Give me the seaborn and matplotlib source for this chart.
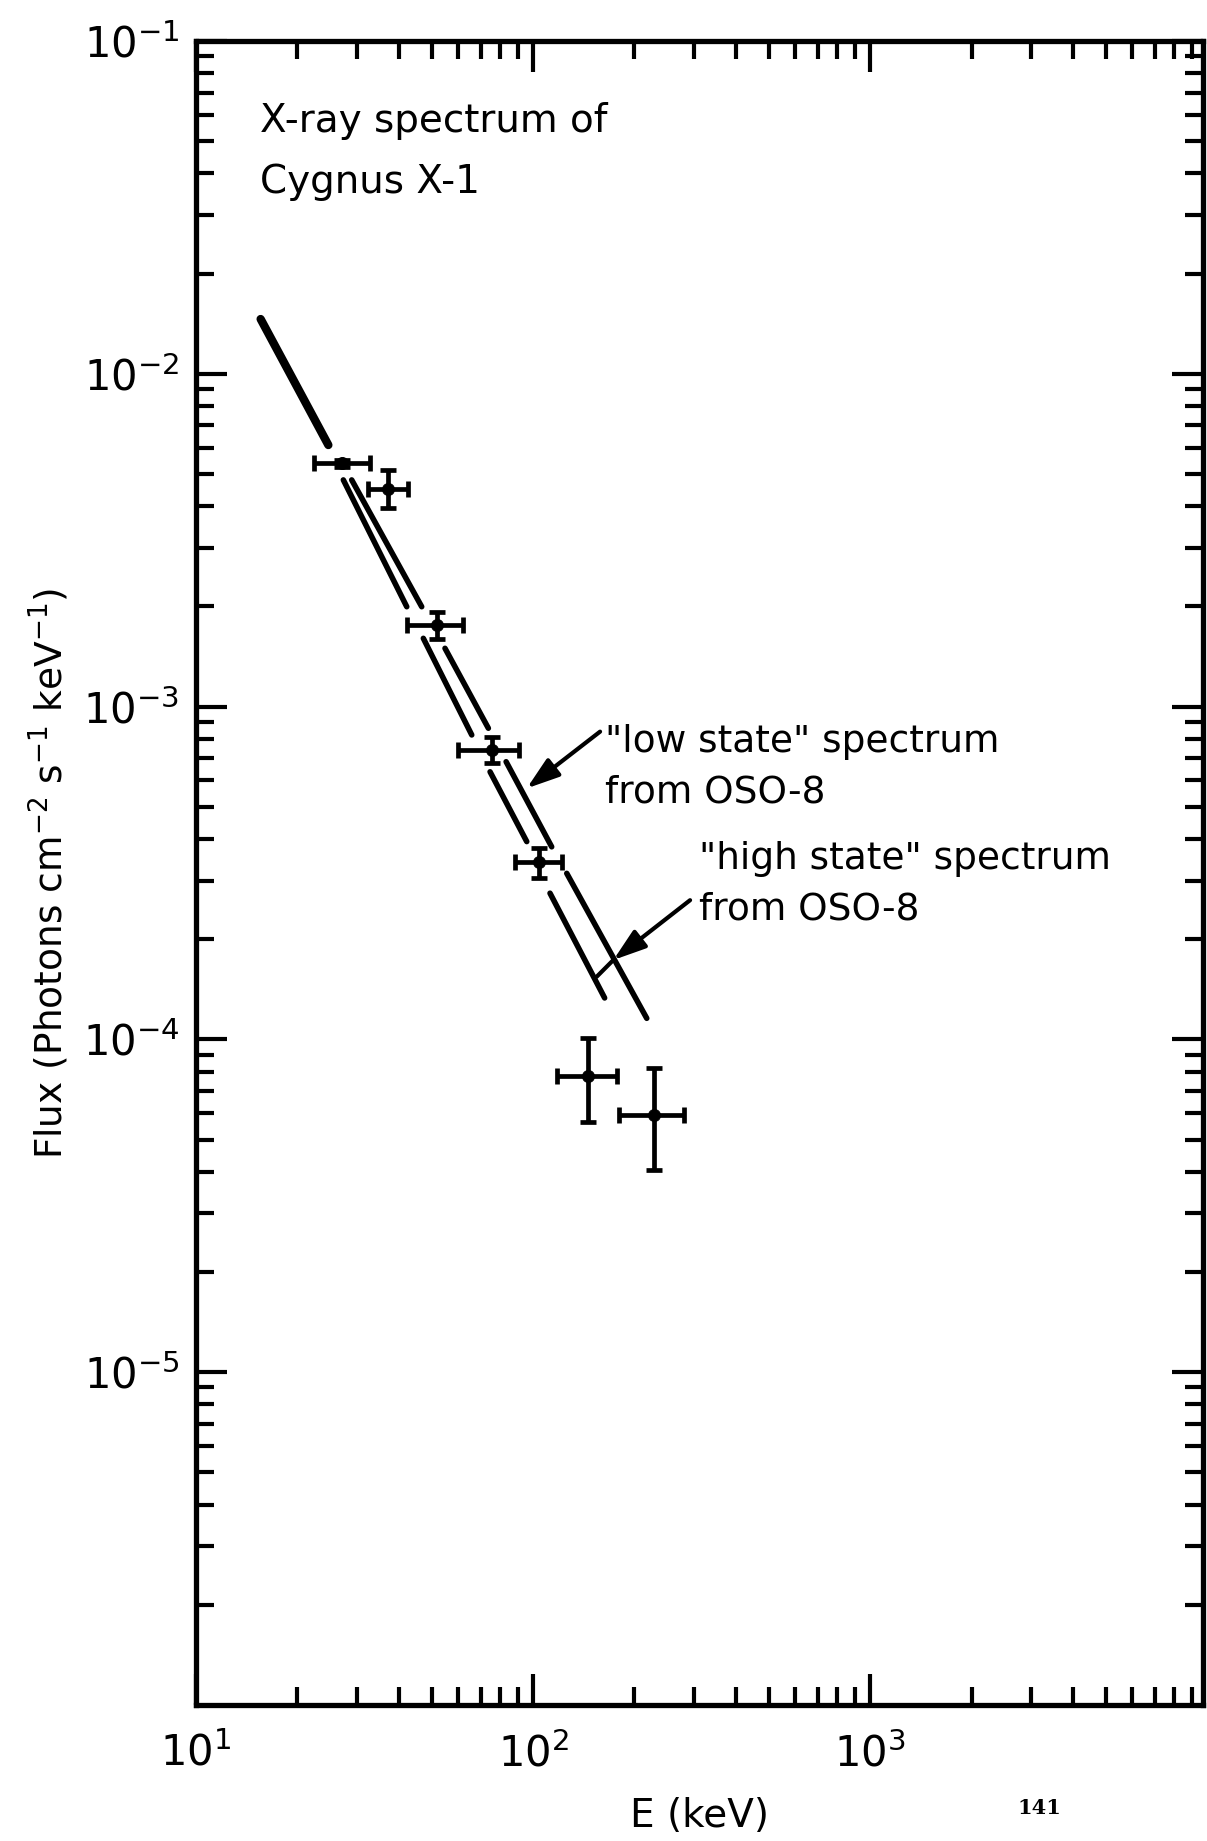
import numpy as np
import pandas as pd
import matplotlib
matplotlib.use("Agg")
import matplotlib.pyplot as plt
import seaborn as sns

# ---------------- data ----------------
# measured points: energy (keV), flux, and error-bar extents
E_pts = [27.1, 37.1, 51.8, 75.3, 104.5, 145.5, 228.0]
F_pts = [5.38e-3, 4.51e-3, 1.758e-3, 7.41e-4, 3.42e-4, 7.78e-5, 5.94e-5]
E_lo = [22.4, 32.3, 42.2, 60.0, 88.4, 118.0, 179.5]
E_hi = [32.8, 42.5, 61.8, 91.0, 121.6, 177.8, 281.0]
F_lo = [5.25e-3, 3.94e-3, 1.60e-3, 6.76e-4, 3.05e-4, 5.64e-5, 4.04e-5]
F_hi = [5.5e-3, 5.14e-3, 1.93e-3, 8.13e-4, 3.75e-4, 1.01e-4, 8.22e-5]

# common solid part of the spectra (low energies)
E_common = [15.55, 24.70]
F_common = [1.461e-2, 6.11e-3]

# "high state" spectrum, drawn broken around the data points (start/end of segments)
E_high_start = [27.36, 47.26, 74.56, 112.3]
E_high_end = [42.20, 65.79, 95.8, 163.1]
F_high_start = [4.80e-3, 1.604e-3, 6.37e-4, 2.75e-4]
F_high_end = [1.996e-3, 8.22e-4, 3.93e-4, 1.332e-4]

# "low state" spectrum
E_low_start = [28.97, 54.8, 83.2, 125.9]
E_low_end = [46.74, 73.7, 113.6, 217.5]
F_low_start = [4.80e-3, 1.497e-3, 6.83e-4, 3.155e-4]
F_low_end = [1.996e-3, 8.61e-4, 3.79e-4, 1.157e-4]

x_ticks = [10, 100, 1000]
x_tick_labels = [r"$10^{1}$", r"$10^{2}$", r"$10^{3}$"]
y_ticks = [1e-5, 1e-4, 1e-3, 1e-2, 1e-1]
y_tick_labels = [r"$10^{-5}$", r"$10^{-4}$", r"$10^{-3}$", r"$10^{-2}$", r"$10^{-1}$"]

# ---------------- build tables ----------------
rows = []
for i, (e0, e1, f0, f1) in enumerate(zip(E_high_start, E_high_end, F_high_start, F_high_end)):
    rows += [("high", f"h{i}", e0, f0), ("high", f"h{i}", e1, f1)]
for i, (e0, e1, f0, f1) in enumerate(zip(E_low_start, E_low_end, F_low_start, F_low_end)):
    rows += [("low", f"l{i}", e0, f0), ("low", f"l{i}", e1, f1)]
seg_df = pd.DataFrame(rows, columns=["state", "seg", "E", "F"])
common_df = pd.DataFrame({"E": E_common, "F": F_common})
pts_df = pd.DataFrame({"E": E_pts, "F": F_pts})

# ---------------- style ----------------
sns.set_theme(style="ticks")
plt.rcParams["font.family"] = ["DejaVu Sans"]
plt.rcParams["mathtext.fontset"] = "dejavusans"
for k in ["text.color", "axes.labelcolor", "xtick.color", "ytick.color", "axes.edgecolor"]:
    plt.rcParams[k] = "black"

fig = plt.figure(figsize=(12.07, 18.41), dpi=100)
ax = fig.add_axes([0.1624, 0.0739, 0.8343, 0.9038])
ax.set_xscale("log")
ax.set_yscale("log")
ax.set_xlim(10, 9727)
ax.set_ylim(1e-6, 1e-1)

# lines
sns.lineplot(data=common_df, x="E", y="F", ax=ax, color="black", lw=6,
             sort=False, estimator=None, legend=False, solid_capstyle="round")
sns.lineplot(data=seg_df, x="E", y="F", units="seg", ax=ax, color="black", lw=4,
             sort=False, estimator=None, legend=False, solid_capstyle="round")

# data points with error bars
xerr = [np.array(E_pts) - np.array(E_lo), np.array(E_hi) - np.array(E_pts)]
yerr = [np.array(F_pts) - np.array(F_lo), np.array(F_hi) - np.array(F_pts)]
ax.errorbar(E_pts, F_pts, xerr=xerr, yerr=yerr, fmt="none", ecolor="black",
            elinewidth=3.4, capsize=6, capthick=3.4)
sns.scatterplot(data=pts_df, x="E", y="F", ax=ax, color="black", s=75,
                edgecolor="black", legend=False, zorder=5)

# spines / ticks
for s in ax.spines.values():
    s.set_linewidth(3.8)
    s.set_color("black")
ax.tick_params(which="both", direction="in", top=True, right=True, color="black")
ax.tick_params(which="major", length=22, width=3.0)
ax.tick_params(which="minor", length=13, width=3.0)
ax.tick_params(axis="x", which="major", pad=20, labelsize=30)
ax.tick_params(axis="y", which="major", pad=12, labelsize=30)
ax.xaxis.set_minor_locator(matplotlib.ticker.LogLocator(base=10, subs=np.arange(2, 10), numticks=20))
ax.yaxis.set_minor_locator(matplotlib.ticker.LogLocator(base=10, subs=np.arange(2, 10), numticks=20))
ax.xaxis.set_minor_formatter(matplotlib.ticker.NullFormatter())
ax.yaxis.set_minor_formatter(matplotlib.ticker.NullFormatter())
ax.set_xticks(x_ticks)
ax.set_xticklabels(x_tick_labels)
ax.set_yticks(y_ticks)
ax.set_yticklabels(y_tick_labels)

ax.set_xlabel("E (keV)", fontsize=28, labelpad=16)
ax.set_ylabel(r"Flux (Photons cm$^{-2}$ s$^{-1}$ keV$^{-1}$)", fontsize=27, labelpad=8)

# annotations
ax.text(0.064, 0.952, "X-ray spectrum of", transform=ax.transAxes, fontsize=28, va="center", ha="left")
ax.text(0.064, 0.915, "Cygnus X-1", transform=ax.transAxes, fontsize=28, va="center", ha="left")
ax.text(0.4057, 0.5787, "\"low state\" spectrum", transform=ax.transAxes, fontsize=27, va="center", ha="left")
ax.text(0.4057, 0.5484, "from OSO-8", transform=ax.transAxes, fontsize=27, va="center", ha="left")
ax.text(0.4991, 0.5082, "\"high state\" spectrum", transform=ax.transAxes, fontsize=27, va="center", ha="left")
ax.text(0.4991, 0.4778, "from OSO-8", transform=ax.transAxes, fontsize=27, va="center", ha="left")

arrow_kw = dict(arrowstyle="-|>,head_length=0.9,head_width=0.3", lw=3, color="black",
                mutation_scale=22, shrinkA=0, shrinkB=0)
ax.annotate("", xy=(95.8, 5.68e-4), xytext=(158.1, 8.41e-4), arrowprops=arrow_kw)
ax.annotate("", xy=(173.1, 1.732e-4), xytext=(292.4, 2.62e-4), arrowprops=arrow_kw)
ax.plot([173.1, 154.5], [1.732e-4, 1.543e-4], color="black", lw=3)

fig.text(1039 / 1207, 1 - 1808 / 1841, "141", fontsize=15, fontweight="bold",
         family="DejaVu Serif", ha="center", va="center")

fig.savefig("out.png", dpi=100, facecolor="white")
